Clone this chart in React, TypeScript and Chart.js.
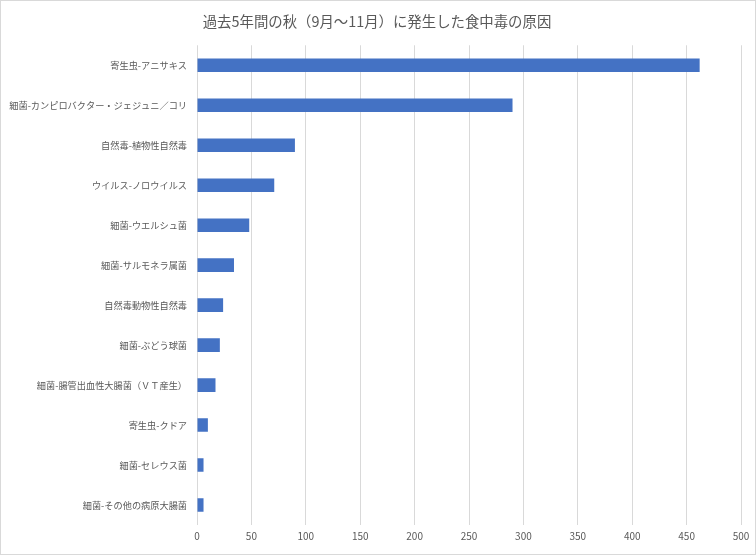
import React, { useEffect, useRef } from "react";
import { Chart, registerables, ChartConfiguration, Plugin } from "chart.js";

Chart.register(...registerables);

const causes = [
  "寄生虫-アニサキス",
  "細菌-カンピロバクター・ジェジュニ／コリ",
  "自然毒-植物性自然毒",
  "ウイルス-ノロウイルス",
  "細菌-ウエルシュ菌",
  "細菌-サルモネラ属菌",
  "自然毒動物性自然毒",
  "細菌-ぶどう球菌",
  "細菌-腸管出血性大腸菌（ＶＴ産生）",
  "寄生虫-クドア",
  "細菌-セレウス菌",
  "細菌-その他の病原大腸菌",
];
const cases = [462, 290, 90, 71, 48, 34, 24, 21, 17, 10, 6, 6];
const xMax = 500;
const xStep = 50;

const font = '"Noto Sans CJK JP", "Noto Sans", sans-serif';
const textColor = "#595959";

// centre the title on the whole canvas, not on the padded layout box
const centreTitle: Plugin<"bar"> = {
  id: "centreTitle",
  afterLayout(chart) {
    const block = (chart as any).titleBlock;
    if (block) {
      block.left = 0;
      block.right = chart.width - 2;
    }
  },
};

const config: ChartConfiguration<"bar"> = {
  type: "bar",
  data: {
    labels: causes,
    datasets: [
      {
        label: "件数",
        data: cases,
        backgroundColor: "#4472C4",
        borderWidth: 0,
        barPercentage: 0.34,
        categoryPercentage: 1,
      },
    ],
  },
  options: {
    indexAxis: "y",
    animation: false,
    responsive: true,
    maintainAspectRatio: false,
    layout: {
      padding: { top: 10, right: 15, bottom: 8, left: 0 },
    },
    plugins: {
      legend: { display: false },
      tooltip: { enabled: false },
      title: {
        display: true,
        text: "過去5年間の秋（9月～11月）に発生した食中毒の原因",
        color: textColor,
        font: { family: font, size: 14.4, weight: "normal" },
        padding: { top: 3, bottom: 15 },
      },
    },
    scales: {
      x: {
        min: 0,
        max: xMax,
        ticks: {
          stepSize: xStep,
          color: textColor,
          font: { family: font, size: 10 },
          padding: 5,
        },
        grid: {
          color: "#d9d9d9",
          lineWidth: 1,
          drawTicks: false,
        },
        border: { display: false },
      },
      y: {
        ticks: {
          color: textColor,
          font: { family: font, size: 9.2 },
          padding: 10,
          autoSkip: false,
        },
        grid: { display: false, drawTicks: false },
        border: { display: false },
        afterFit: (scale) => {
          scale.width = 197;
        },
      },
    },
  },
  plugins: [centreTitle],
};

export default function App() {
  const chartRef = useRef<HTMLCanvasElement | null>(null);

  useEffect(() => {
    document.body.style.margin = "0";
    if (!chartRef.current) {
      return;
    }
    const chartInstance = new Chart(chartRef.current, config);
    return () => {
      chartInstance.destroy();
    };
  }, [chartRef]);

  return (
    <div style={{ position: "relative", width: 756, height: 555, background: "#fff" }}>
      <canvas ref={chartRef}></canvas>
      <div
        style={{
          position: "absolute",
          inset: 0,
          border: "1px solid #d9d9d9",
          pointerEvents: "none",
        }}
      />
    </div>
  );
}
